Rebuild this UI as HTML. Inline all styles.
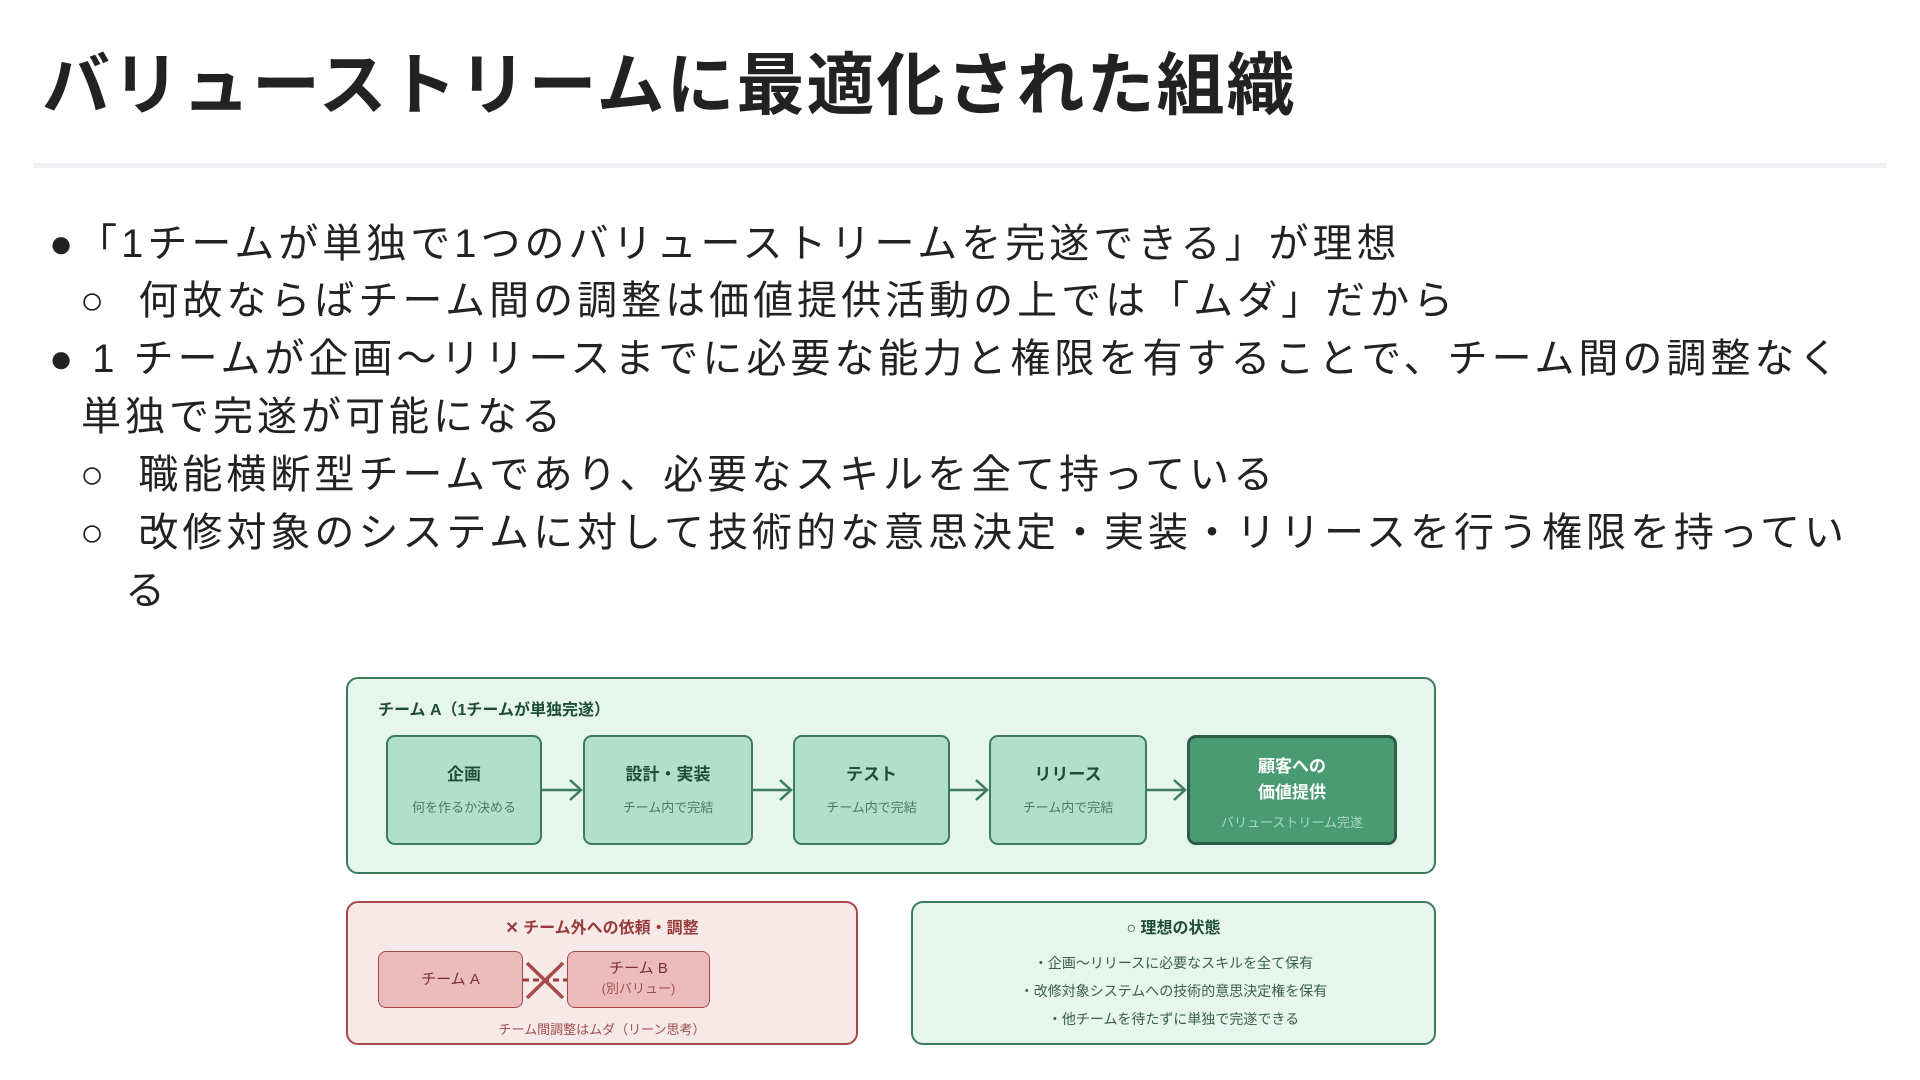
<!DOCTYPE html>
<html><head><meta charset="utf-8"><style>
body{margin:0;width:1920px;height:1080px;background:#fff;font-family:"Liberation Sans","Noto Sans CJK JP",sans-serif;position:relative;overflow:hidden;color:#222}
.a{position:absolute;white-space:nowrap}
h1{position:absolute;left:42px;top:30px;margin:0;font-size:68px;font-weight:bold;color:#222;letter-spacing:2px}
.sep{position:absolute;left:34px;top:163px;width:1852px;height:5px;background:#eef0f3}
.t{font-size:40px;color:#222;line-height:1;letter-spacing:4px}
.box{position:absolute;box-sizing:border-box;border-radius:12px}
.st{position:absolute;box-sizing:border-box;border:2px solid #3d7a5e;background:#b0e0cb;border-radius:9px;text-align:center;color:#1f4d3a}
.st b{display:block;font-size:17px;margin-top:23px}
.st span{display:block;font-size:13px;color:#4d7a66;margin-top:12px}
</style></head><body>
<h1>バリューストリームに最適化された組織</h1>
<div class="sep"></div>
<div class="a t" style="left:49px;top:224px">●「1チームが単独で1つのバリューストリームを完遂できる」が理想</div>
<div class="a t" style="left:80px;top:281px">○&nbsp;&nbsp;何故ならばチーム間の調整は価値提供活動の上では「ムダ」だから</div>
<div class="a t" style="left:49px;top:339px">● 1 チームが企画〜リリースまでに必要な能力と権限を有することで、チーム間の調整なく</div>
<div class="a t" style="left:81px;top:397px">単独で完遂が可能になる</div>
<div class="a t" style="left:80px;top:455px">○&nbsp;&nbsp;職能横断型チームであり、必要なスキルを全て持っている</div>
<div class="a t" style="left:80px;top:513px">○&nbsp;&nbsp;改修対象のシステムに対して技術的な意思決定・実装・リリースを行う権限を持ってい</div>
<div class="a t" style="left:125px;top:571px">る</div>

<div class="box" style="left:346px;top:677px;width:1090px;height:197px;border:2.5px solid #3d7a5e;background:#e6f5ee"></div>
<div class="a" style="left:378px;top:696px;font-size:16px;font-weight:bold;color:#1f4d3a">チーム A（1チームが単独完遂）</div>
<div class="st" style="left:386px;top:735px;width:156px;height:110px"><b>企画</b><span>何を作るか決める</span></div>
<div class="st" style="left:583px;top:735px;width:170px;height:110px"><b>設計・実装</b><span>チーム内で完結</span></div>
<div class="st" style="left:793px;top:735px;width:157px;height:110px"><b>テスト</b><span>チーム内で完結</span></div>
<div class="st" style="left:989px;top:735px;width:158px;height:110px"><b>リリース</b><span>チーム内で完結</span></div>
<div class="st" style="left:1187px;top:735px;width:210px;height:110px;background:#4a9a72;border:3px solid #2a5e45;color:#fff"><b style="margin-top:16px;line-height:26px">顧客への<br>価値提供</b><span style="color:#a8d8c0;margin-top:6px">バリューストリーム完遂</span></div>

<div class="box" style="left:346px;top:901px;width:512px;height:144px;border:2px solid #a84848;background:#f8e9e9"></div>
<div class="a" style="left:346px;width:512px;text-align:center;top:914px;font-size:16px;font-weight:bold;color:#9a3a3a">✕ チーム外への依頼・調整</div>
<div class="box" style="left:378px;top:951px;width:145px;height:57px;border:1.5px solid #a84848;background:#ecbcbc;border-radius:8px;text-align:center;line-height:55px;font-size:15px;color:#7a3030">チーム A</div>
<div class="box" style="left:567px;top:951px;width:143px;height:57px;border:1.5px solid #a84848;background:#ecbcbc;border-radius:8px;text-align:center;font-size:15px;color:#7a3030;padding-top:7px;line-height:20px">チーム B<br><span style="font-size:13px;color:#a05050">(別バリュー)</span></div>
<div class="a" style="left:346px;width:512px;text-align:center;top:1019px;font-size:13px;color:#a05050">チーム間調整はムダ（リーン思考）</div>

<div class="box" style="left:911px;top:901px;width:525px;height:144px;border:2px solid #3d7a5e;background:#e6f5ee"></div>
<div class="a" style="left:911px;width:525px;text-align:center;top:914px;font-size:16px;font-weight:bold;color:#1f4d3a">○ 理想の状態</div>
<div class="a" style="left:911px;width:525px;text-align:center;top:949px;font-size:14px;color:#3a5e4e;line-height:28px">・企画〜リリースに必要なスキルを全て保有<br>・改修対象システムへの技術的意思決定権を保有<br>・他チームを待たずに単独で完遂できる</div>

<svg class="a" style="left:0;top:0" width="1920" height="1080">
<g stroke="#3d7a5e" stroke-width="2.5" fill="none">
<path d="M542 790H580M570 780L581 790L570 800"/>
<path d="M753 790H790M780 780L791 790L780 800"/>
<path d="M950 790H986M976 780L987 790L976 800"/>
<path d="M1147 790H1184M1174 780L1185 790L1174 800"/>
</g>
<path d="M523 980H567" stroke="#9a3a3a" stroke-width="3" stroke-dasharray="6 4"/>
<path d="M527 963L563 998M563 963L527 998" stroke="#a84848" stroke-width="3.5"/>
</svg>
</body></html>
